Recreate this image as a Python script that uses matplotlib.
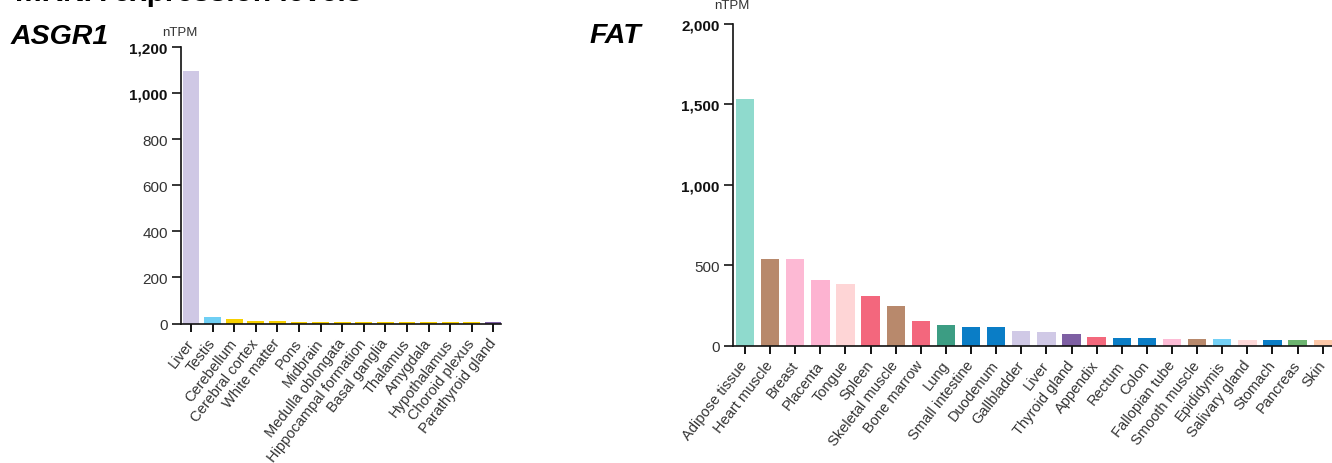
import matplotlib
matplotlib.use("Agg")
import matplotlib.pyplot as plt

plt.rcParams['font.family'] = ['Liberation Sans', 'DejaVu Sans']

# ASGR1 tissue expression (nTPM)
asgr1_tissues = ["Liver", "Testis", "Cerebellum", "Cerebral cortex", "White matter", "Pons",
                 "Midbrain", "Medulla oblongata", "Hippocampal formation", "Basal ganglia",
                 "Thalamus", "Amygdala", "Hypothalamus", "Choroid plexus", "Parathyroid gland"]
asgr1_ntpm = [1097, 27, 18, 12, 9, 8, 8, 8, 8, 8, 8, 7, 7, 6, 8]
asgr1_colors = ["#cfc8e5", "#6fcff4", "#f7d000", "#f7d000", "#f7d000", "#f7d000", "#f7d000",
                "#f7d000", "#f7d000", "#f7d000", "#f7d000", "#f7d000", "#f7d000", "#f7d000",
                "#7d5fa5"]
asgr1_yticks = [0, 200, 400, 600, 800, 1000, 1200]
asgr1_ylabels = ["0", "200", "400", "600", "800", "1,000", "1,200"]

# FAT tissue expression (nTPM)
fat_tissues = ["Adipose tissue", "Heart muscle", "Breast", "Placenta", "Tongue", "Spleen",
               "Skeletal muscle", "Bone marrow", "Lung", "Small intestine", "Duodenum",
               "Gallbladder", "Liver", "Thyroid gland", "Appendix", "Rectum", "Colon",
               "Fallopian tube", "Smooth muscle", "Epididymis", "Salivary gland", "Stomach",
               "Pancreas", "Skin"]
fat_ntpm = [1533, 540, 540, 410, 380, 310, 248, 150, 130, 118, 115, 88, 85, 72, 55, 45, 45,
            43, 43, 42, 35, 34, 32, 32]
fat_colors = ["#8fdacd", "#b8896c", "#fdb9d4", "#fdb3d1", "#fed5d6", "#f3677d", "#b8896c",
              "#f3677d", "#3c9d83", "#0a7dc6", "#0a7dc6", "#d0c9e6", "#d0c9e6", "#7e5fa3",
              "#f3687c", "#0a7dc6", "#0a7dc6", "#fdbcd6", "#b8896c", "#74d1f6", "#fed9d9",
              "#0a7dc6", "#6cb46f", "#fdc8a8"]
fat_yticks = [0, 500, 1000, 1500, 2000]
fat_ylabels = ["0", "500", "1,000", "1,500", "2,000"]

W, H = 1332, 464
fig = plt.figure(figsize=(W / 100, H / 100), dpi=100)


def style_axes(ax, yticks, ylabels, bold_from):
    for s in ("top", "right"):
        ax.spines[s].set_visible(False)
    for s in ("left", "bottom"):
        ax.spines[s].set_linewidth(1.2)
        ax.spines[s].set_color("#111111")
    ax.set_yticks(yticks)
    ax.set_yticklabels(ylabels)
    ax.tick_params(axis="y", length=6.5, width=1.1, pad=3, labelsize=11, labelcolor="#333333")
    ax.tick_params(axis="x", length=6, width=1.3, pad=6, labelsize=10.5, labelcolor="#333333")
    for lab in ax.get_yticklabels()[bold_from:]:
        lab.set_fontweight("bold")
        lab.set_color("#111111")
    for lab in ax.get_xticklabels():
        lab.set_rotation(52)
        lab.set_ha("right")
        lab.set_va("center")
        lab.set_rotation_mode("anchor")


# ASGR1 panel
ax1 = fig.add_axes([181 / W, 1 - 324.5 / H, 320 / W, 276.5 / H])
x1 = range(len(asgr1_tissues))
ax1.bar(x1, asgr1_ntpm, width=0.78, color=asgr1_colors)
ax1.set_xticks(list(x1))
ax1.set_xticklabels(asgr1_tissues)
ax1.set_xlim(-0.46, 14.35)
ax1.set_ylim(0, 1200)
style_axes(ax1, asgr1_yticks, asgr1_ylabels, 5)
fig.text(180 / W, 1 - 36 / H, "nTPM", ha="center", va="baseline",
         fontsize=9.5, color="#333333")

# FAT panel
ax2 = fig.add_axes([732.7 / W, 1 - 346.5 / H, (W - 732.7) / W, 321.5 / H])
x2 = range(len(fat_tissues))
ax2.bar(x2, fat_ntpm, width=0.73, color=fat_colors)
ax2.set_xticks(list(x2))
ax2.set_xticklabels(fat_tissues)
ax2.set_xlim(-0.49, 23.37)
ax2.set_ylim(0, 2000)
style_axes(ax2, fat_yticks, fat_ylabels, 2)
fig.text(732 / W, 1 - 9 / H, "nTPM", ha="center", va="baseline",
         fontsize=9.5, color="#333333")

# Headings
fig.text(15 / W, 1 - 1 / H, "mRNA expression levels", ha="left", va="baseline",
         fontsize=21.5, fontweight="bold", color="black")
fig.text(11 / W, 1 - 44 / H, "ASGR1", ha="left", va="baseline",
         fontsize=20.5, fontweight="bold", fontstyle="italic", color="black")
fig.text(590 / W, 1 - 43 / H, "FAT", ha="left", va="baseline",
         fontsize=20.5, fontweight="bold", fontstyle="italic", color="black")

fig.savefig("out.png", dpi=100, facecolor="white")
